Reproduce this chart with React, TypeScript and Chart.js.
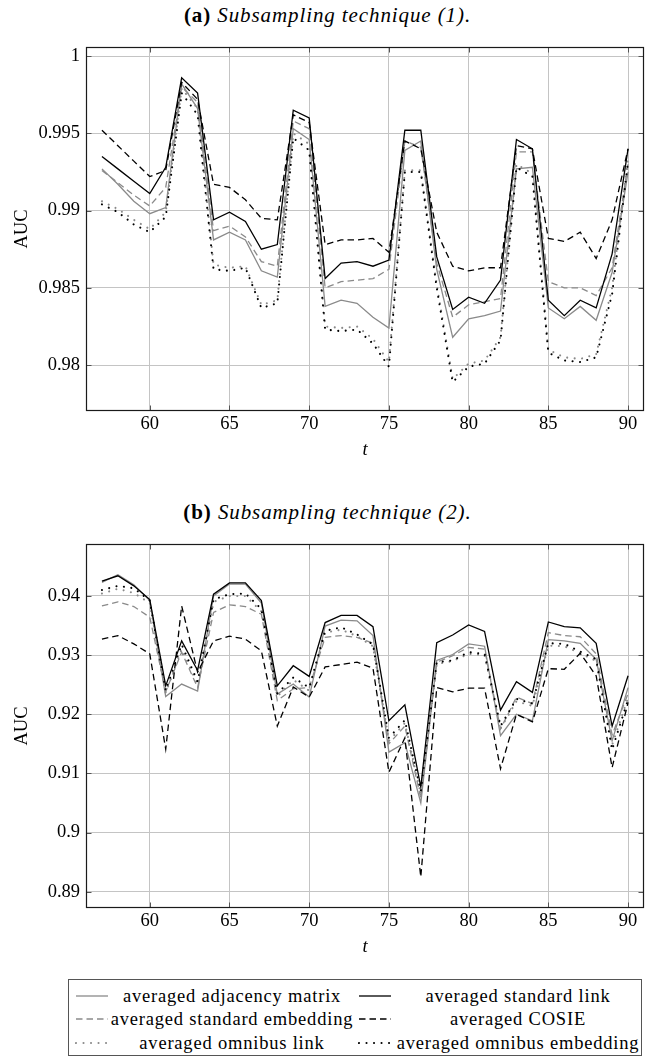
import React, { useEffect, useRef } from "react";
import { Chart, registerables } from "chart.js";
Chart.register(...registerables);

// ---------- data ----------
const T = [57, 58, 59, 60, 61, 62, 63, 64, 65, 66, 67, 68, 69, 70, 71, 72, 73, 74, 75, 76, 77, 78, 79, 80, 81, 82, 83, 84, 85, 86, 87, 88, 89, 90];

const X_TICKS = [60, 65, 70, 75, 80, 85, 90];
const X_TICK_LABELS = ["60", "65", "70", "75", "80", "85", "90"];
const A_Y_TICKS = [0.98, 0.985, 0.99, 0.995, 1];
const A_Y_TICK_LABELS = ["0.98", "0.985", "0.99", "0.995", "1"];
const B_Y_TICKS = [0.89, 0.9, 0.91, 0.92, 0.93, 0.94];
const B_Y_TICK_LABELS = ["0.89", "0.9", "0.91", "0.92", "0.93", "0.94"];

const SERIES_NAMES = [
  "averaged adjacency matrix",
  "averaged standard link",
  "averaged standard embedding",
  "averaged COSIE",
  "averaged omnibus link",
  "averaged omnibus embedding",
];

// Panel (a): Subsampling technique (1)
const A_ADJ = [0.9927, 0.9917, 0.9906, 0.9898, 0.9902, 0.9982, 0.9966, 0.9881, 0.9886, 0.9881, 0.9861, 0.9857, 0.9953, 0.9946, 0.9838, 0.9842, 0.984, 0.9831, 0.9824, 0.9939, 0.9945, 0.9862, 0.9818, 0.983, 0.9832, 0.9835, 0.9927, 0.9928, 0.9837, 0.983, 0.9838, 0.9829, 0.986, 0.9925];
const A_STD_LINK = [0.9935, 0.9927, 0.9919, 0.9911, 0.9928, 0.9986, 0.9976, 0.9894, 0.9899, 0.9893, 0.9875, 0.9878, 0.9965, 0.996, 0.9856, 0.9866, 0.9867, 0.9864, 0.9868, 0.9952, 0.9952, 0.987, 0.9836, 0.9844, 0.984, 0.9855, 0.9946, 0.994, 0.9842, 0.9832, 0.9842, 0.9837, 0.9872, 0.994];
const A_STD_EMB = [0.9926, 0.9918, 0.991, 0.9903, 0.9915, 0.998, 0.997, 0.9887, 0.989, 0.9883, 0.9867, 0.9864, 0.9958, 0.9953, 0.985, 0.9854, 0.9855, 0.9856, 0.9862, 0.9945, 0.9941, 0.9866, 0.9831, 0.9839, 0.9841, 0.9843, 0.9938, 0.9938, 0.9854, 0.985, 0.985, 0.9845, 0.9863, 0.993];
const A_COSIE = [0.9952, 0.9942, 0.9932, 0.9922, 0.9926, 0.9983, 0.9972, 0.9917, 0.9915, 0.9907, 0.9895, 0.9894, 0.9962, 0.9957, 0.9878, 0.9881, 0.9881, 0.9882, 0.9873, 0.9945, 0.994, 0.9886, 0.9864, 0.9861, 0.9863, 0.9863, 0.9942, 0.994, 0.9882, 0.988, 0.9886, 0.9869, 0.9894, 0.994];
const A_OMNI_LINK = [0.9906, 0.9901, 0.9894, 0.9888, 0.9899, 0.9979, 0.9966, 0.9865, 0.9863, 0.9864, 0.9839, 0.9842, 0.995, 0.9943, 0.9825, 0.9824, 0.9825, 0.9817, 0.9802, 0.9926, 0.9926, 0.9852, 0.9791, 0.9801, 0.9803, 0.9818, 0.993, 0.9924, 0.981, 0.9805, 0.9804, 0.9807, 0.985, 0.9934];
const A_OMNI_EMB = [0.9904, 0.9899, 0.9891, 0.9886, 0.9896, 0.9976, 0.9962, 0.9862, 0.9861, 0.9863, 0.9837, 0.984, 0.9947, 0.9939, 0.9823, 0.9822, 0.9823, 0.9814, 0.9799, 0.9925, 0.9925, 0.985, 0.9789, 0.9799, 0.9801, 0.9816, 0.9928, 0.9922, 0.9808, 0.9803, 0.9802, 0.9805, 0.9846, 0.9932];

// Panel (b): Subsampling technique (2)
const B_ADJ = [0.9423, 0.9436, 0.9419, 0.9392, 0.923, 0.9251, 0.9239, 0.94, 0.942, 0.942, 0.9388, 0.9234, 0.9251, 0.9229, 0.9349, 0.9359, 0.9358, 0.9333, 0.9136, 0.9152, 0.905, 0.9291, 0.9301, 0.9319, 0.9315, 0.9164, 0.92, 0.9189, 0.9326, 0.9324, 0.932, 0.9293, 0.9155, 0.9245];
const B_STD_LINK = [0.9425, 0.9434, 0.9417, 0.9394, 0.9248, 0.9324, 0.9274, 0.9403, 0.9422, 0.9422, 0.9392, 0.9248, 0.9282, 0.9264, 0.9355, 0.9367, 0.9367, 0.9348, 0.9189, 0.9216, 0.9077, 0.9321, 0.9334, 0.9351, 0.934, 0.9207, 0.9255, 0.9237, 0.9356, 0.9348, 0.9346, 0.932, 0.918, 0.9265];
const B_STD_EMB = [0.9383, 0.939, 0.9382, 0.9364, 0.9238, 0.9305, 0.9245, 0.9372, 0.9385, 0.9382, 0.9369, 0.9223, 0.9243, 0.9245, 0.933, 0.9333, 0.933, 0.932, 0.915, 0.918, 0.9058, 0.9288, 0.9299, 0.9313, 0.931, 0.9175, 0.9229, 0.9218, 0.9338, 0.9333, 0.9331, 0.9302, 0.9165, 0.9235];
const B_COSIE = [0.9327, 0.9333, 0.9319, 0.9302, 0.9141, 0.9383, 0.9271, 0.9324, 0.9332, 0.9327, 0.9307, 0.918, 0.9246, 0.9229, 0.928, 0.9284, 0.9288, 0.9278, 0.9102, 0.916, 0.8925, 0.9245, 0.9238, 0.9244, 0.9244, 0.9108, 0.92, 0.9187, 0.9277, 0.9276, 0.9303, 0.9265, 0.911, 0.922];
const B_OMNI_LINK = [0.9404, 0.9412, 0.9405, 0.9388, 0.9236, 0.931, 0.925, 0.939, 0.94, 0.94, 0.9374, 0.923, 0.9258, 0.924, 0.9338, 0.9343, 0.9332, 0.9315, 0.9155, 0.9185, 0.9065, 0.9285, 0.929, 0.9302, 0.93, 0.9176, 0.9222, 0.9214, 0.9316, 0.9315, 0.9303, 0.929, 0.9148, 0.9228];
const B_OMNI_EMB = [0.941, 0.9417, 0.9413, 0.9392, 0.924, 0.9318, 0.9255, 0.9394, 0.9403, 0.9404, 0.9378, 0.9235, 0.9262, 0.9245, 0.9341, 0.9347, 0.9335, 0.9318, 0.916, 0.919, 0.907, 0.9288, 0.9291, 0.9305, 0.9302, 0.918, 0.9226, 0.9218, 0.932, 0.9319, 0.9306, 0.9293, 0.914, 0.9225];

// ---------- styles ----------
const GRAY = "#8a8a8a";
const BLACK = "#000000";
const DASH = [6.5, 4];
const DOT = [0.01, 7.5];

type Style = { color: string; dash: number[]; width: number; cap: CanvasLineCap };
const STYLES: Style[] = [
  { color: GRAY, dash: [], width: 1.3, cap: "butt" },
  { color: BLACK, dash: [], width: 1.3, cap: "butt" },
  { color: GRAY, dash: DASH, width: 1.3, cap: "butt" },
  { color: BLACK, dash: DASH, width: 1.3, cap: "butt" },
  { color: GRAY, dash: DOT, width: 2.1, cap: "round" },
  { color: BLACK, dash: DOT, width: 2.1, cap: "round" },
];

const SERIF = "Liberation Serif, Times New Roman, serif";
const TICK_FONT_SIZE = 18.5;

const framePlugin = {
  id: "frame",
  afterDraw(chart: any) {
    const { ctx, chartArea } = chart;
    const l = Math.round(chartArea.left) + 0.5;
    const r = Math.round(chartArea.right) - 0.5;
    const t = Math.round(chartArea.top) + 0.5;
    const b = Math.round(chartArea.bottom) - 0.5;
    ctx.save();
    ctx.strokeStyle = "#555";
    ctx.lineWidth = 1;
    const xs = chart.scales.x;
    const ys = chart.scales.y;
    const tl = 5;
    ctx.beginPath();
    xs.ticks.forEach((tk: any) => {
      const p = Math.round(xs.getPixelForValue(tk.value)) + 0.5;
      ctx.moveTo(p, b);
      ctx.lineTo(p, b - tl);
      ctx.moveTo(p, t);
      ctx.lineTo(p, t + tl);
    });
    ys.ticks.forEach((tk: any) => {
      const p = Math.round(ys.getPixelForValue(tk.value)) + 0.5;
      ctx.moveTo(l, p);
      ctx.lineTo(l + tl, p);
      ctx.moveTo(r, p);
      ctx.lineTo(r - tl, p);
    });
    ctx.stroke();
    ctx.strokeStyle = "#1a1a1a";
    ctx.lineWidth = 1.2;
    ctx.strokeRect(l, t, r - l, b - t);
    ctx.restore();
  },
};

function labelFor(ticks: number[], labels: string[], v: number) {
  const i = ticks.findIndex((x) => Math.abs(x - v) < 1e-9);
  return i >= 0 ? labels[i] : "";
}

function makeConfig(series: number[][], yMin: number, yMax: number, yTicks: number[], yLabels: string[]) {
  // draw order: black over gray
  const order = [1, 3, 5, 0, 2, 4];
  const datasets = order.map((si) => {
    const st = STYLES[si];
    return {
      label: SERIES_NAMES[si],
      data: T.map((t, i) => ({ x: t, y: series[si][i] })),
      borderColor: st.color,
      backgroundColor: st.color,
      borderWidth: st.width,
      borderDash: st.dash,
      borderCapStyle: st.cap,
      borderJoinStyle: "miter" as CanvasLineJoin,
      pointRadius: 0,
      tension: 0,
      fill: false,
    };
  });
  return {
    type: "line" as const,
    data: { datasets },
    options: {
      animation: false as const,
      responsive: false,
      devicePixelRatio: 1,
      layout: { padding: { top: 16, right: 18, left: 0, bottom: 0 } },
      plugins: { legend: { display: false }, tooltip: { enabled: false }, title: { display: false } },
      scales: {
        x: {
          type: "linear" as const,
          min: 56,
          max: 91,
          afterFit: (s: any) => {
            s.height = 59;
          },
          afterBuildTicks: (s: any) => {
            s.ticks = X_TICKS.map((v) => ({ value: v }));
          },
          ticks: {
            autoSkip: false,
            maxRotation: 0,
            padding: 2,
            color: "#000",
            font: { family: SERIF, size: TICK_FONT_SIZE },
            callback: (v: any) => labelFor(X_TICKS, X_TICK_LABELS, Number(v)),
          },
          grid: { color: "#c4c4c4", lineWidth: 1, drawTicks: false },
          border: { display: false },
          title: {
            display: true,
            text: "t",
            color: "#000",
            font: { family: SERIF, size: TICK_FONT_SIZE, style: "italic" as const },
            padding: { top: 0, bottom: 9 },
          },
        },
        y: {
          type: "linear" as const,
          min: yMin,
          max: yMax,
          afterFit: (s: any) => {
            s.width = 86;
          },
          afterBuildTicks: (s: any) => {
            s.ticks = yTicks.map((v) => ({ value: v }));
          },
          ticks: {
            autoSkip: false,
            padding: 6,
            color: "#000",
            font: { family: SERIF, size: TICK_FONT_SIZE },
            callback: (v: any) => labelFor(yTicks, yLabels, Number(v)),
          },
          grid: { color: "#c4c4c4", lineWidth: 1, drawTicks: false },
          border: { display: false },
          title: {
            display: true,
            text: "AUC",
            color: "#000",
            font: { family: SERIF, size: TICK_FONT_SIZE },
            padding: { top: 11, bottom: 0 },
          },
        },
      },
    },
    plugins: [framePlugin],
  };
}

function Panel(props: { series: number[][]; yMin: number; yMax: number; yTicks: number[]; yLabels: string[]; top: number }) {
  const ref = useRef<HTMLCanvasElement | null>(null);
  useEffect(() => {
    if (!ref.current) return;
    const chart = new Chart(ref.current, makeConfig(props.series, props.yMin, props.yMax, props.yTicks, props.yLabels) as any);
    return () => chart.destroy();
  }, []);
  return (
    <canvas
      ref={ref}
      width={662}
      height={440}
      style={{ position: "absolute", left: 0, top: props.top, width: 662, height: 440 }}
    />
  );
}

function Caption(props: { letter: string; text: string; top: number }) {
  return (
    <div
      style={{
        position: "absolute",
        left: 0,
        top: props.top,
        width: 655,
        textAlign: "center",
        fontFamily: SERIF,
        fontSize: 21,
        letterSpacing: "0.9px",
        lineHeight: "24px",
        color: "#000",
        whiteSpace: "nowrap",
      }}
    >
      <b>{props.letter}</b> <i>{props.text}</i>
    </div>
  );
}

function Sample(props: { style: Style }) {
  const s = props.style;
  const dash = s.dash.length ? s.dash.join(" ") : undefined;
  return (
    <svg width={34} height={10} style={{ display: "block" }}>
      <line
        x1={1}
        y1={5}
        x2={33}
        y2={5}
        stroke={s.color}
        strokeWidth={s.width}
        strokeDasharray={dash}
        strokeLinecap={s.cap}
      />
    </svg>
  );
}

function Legend() {
  const rows = [
    [0, 1],
    [2, 3],
    [4, 5],
  ];
  return (
    <div
      style={{
        position: "absolute",
        left: 68,
        top: 979,
        width: 574,
        height: 77,
        boxSizing: "border-box",
        border: "1px solid #555",
        fontFamily: SERIF,
        fontSize: 18.5,
        letterSpacing: "0.8px",
        color: "#000",
      }}
    >
      {rows.map((r, ri) => (
        <div key={ri} style={{ position: "absolute", left: 0, top: 4 + ri * 23.3, height: 24, width: 572 }}>
          <div style={{ position: "absolute", left: 6, top: 7 }}>
            <Sample style={STYLES[r[0]]} />
          </div>
          <div style={{ position: "absolute", left: 41, width: 244, top: 0, lineHeight: "24px", textAlign: "center", whiteSpace: "nowrap" }}>
            {SERIES_NAMES[r[0]]}
          </div>
          <div style={{ position: "absolute", left: 289, top: 7 }}>
            <Sample style={STYLES[r[1]]} />
          </div>
          <div style={{ position: "absolute", left: 327, width: 244, top: 0, lineHeight: "24px", textAlign: "center", whiteSpace: "nowrap" }}>
            {SERIES_NAMES[r[1]]}
          </div>
        </div>
      ))}
    </div>
  );
}

export default function App() {
  const seriesA = [A_ADJ, A_STD_LINK, A_STD_EMB, A_COSIE, A_OMNI_LINK, A_OMNI_EMB];
  const seriesB = [B_ADJ, B_STD_LINK, B_STD_EMB, B_COSIE, B_OMNI_LINK, B_OMNI_EMB];
  return (
    <div style={{ position: "absolute", left: 0, top: 0, width: 662, height: 1057, background: "#fff", overflow: "hidden" }}>
      <Caption letter="(a)" text="Subsampling technique (1)." top={3} />
      <Panel series={seriesA} yMin={0.97703} yMax={1.00058} yTicks={A_Y_TICKS} yLabels={A_Y_TICK_LABELS} top={30} />
      <Caption letter="(b)" text="Subsampling technique (2)." top={500} />
      <Panel series={seriesB} yMin={0.88725} yMax={0.94876} yTicks={B_Y_TICKS} yLabels={B_Y_TICK_LABELS} top={527} />
      <Legend />
    </div>
  );
}
